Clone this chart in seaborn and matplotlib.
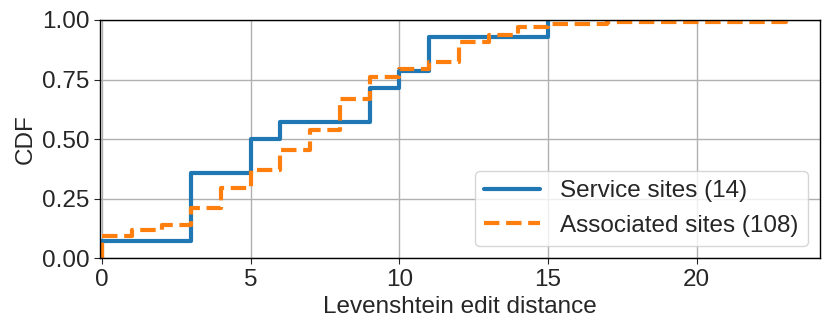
import numpy as np
import pandas as pd
import matplotlib
matplotlib.use('Agg')
import matplotlib.pyplot as plt
import seaborn as sns

service_dist = [0, 3, 5, 6, 9, 10, 11, 15]
service_count = [1, 4, 2, 1, 2, 1, 2, 1]

assoc_dist = [0, 1, 2, 3, 4, 5, 6, 7, 8, 9, 10, 11, 12, 13, 14, 15, 17, 23]
assoc_count = [10, 3, 2, 8, 9, 8, 9, 9, 14, 10, 4, 3, 9, 3, 4, 1, 1, 1]

service = np.repeat(service_dist, service_count)
assoc = np.repeat(assoc_dist, assoc_count)

sns.set_style('ticks')
plt.rcParams['font.family'] = ['Liberation Sans', 'DejaVu Sans']
fs = 17.5

fig, ax = plt.subplots(figsize=(8.31, 3.32), dpi=100)
fig.subplots_adjust(left=0.1203, right=0.9868, top=0.9398, bottom=0.2214)

sns.ecdfplot(x=service, ax=ax, color='tab:blue', linewidth=3,
             label='Service sites (%d)' % len(service))
sns.ecdfplot(x=assoc, ax=ax, color='tab:orange', linewidth=3, linestyle='--',
             label='Associated sites (%d)' % len(assoc))

ax.set_xlim(-0.07, 24.15)
ax.set_ylim(0, 1)
ax.set_yticks([0, 0.25, 0.5, 0.75, 1.0])
ax.set_xticks([0, 5, 10, 15, 20])
ax.grid(True, color='#b0b0b0', linewidth=1)
ax.set_axisbelow(True)
ax.set_xlabel('Levenshtein edit distance', fontsize=fs)
ax.set_ylabel('CDF', fontsize=fs)
ax.tick_params(labelsize=fs, length=4)
for s in ax.spines.values():
    s.set_color('black')
    s.set_linewidth(1)
ax.legend(loc='lower right', fontsize=fs, handlelength=2.3)

plt.savefig('out.png', dpi=100)
plt.close()
